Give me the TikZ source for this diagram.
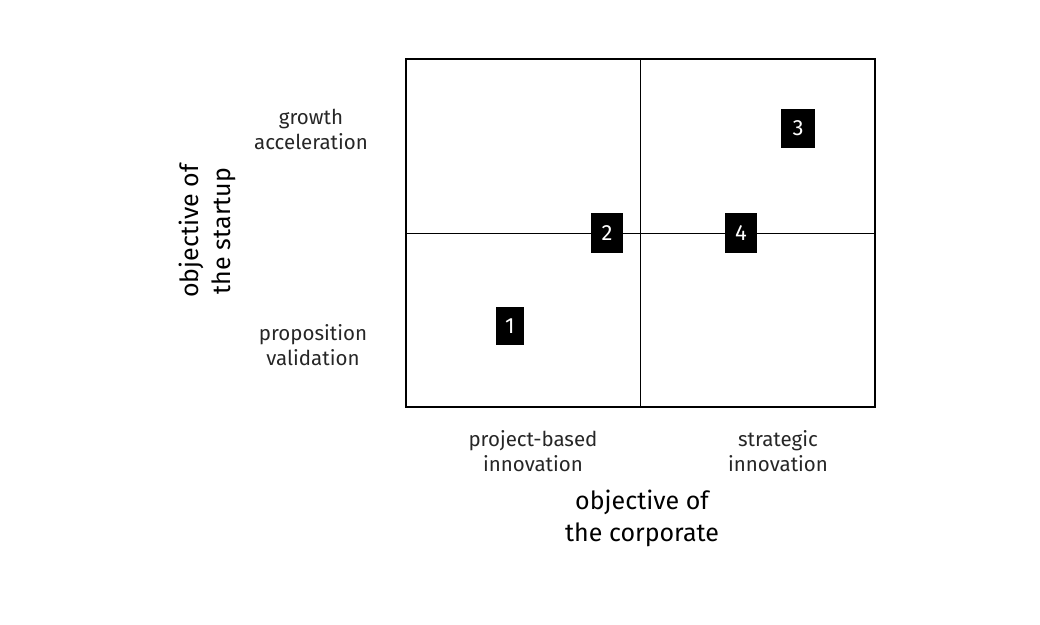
\documentclass[tikz,border=0pt]{standalone}
\usepackage{fontspec}
\setmainfont{Fira Sans}
\begin{document}
\begin{tikzpicture}[x=1pt,y=-1pt,
  lbl/.style={align=center,font=\fontsize{20.5}{25}\selectfont,text=black!85},
  axis/.style={align=center,font=\fontsize{25}{32}\selectfont,text=black},
  num/.style={fill=black,text=white,inner sep=0pt,font=\fontsize{22}{22}\selectfont}]
\useasboundingbox (0,0) rectangle (1040,624);
\node[draw=black,line width=2.2pt,minimum width=469pt,minimum height=348pt,inner sep=0pt] (frame) at (640.5,233) {};
\coordinate (vt) at (640,59);
\coordinate (vb) at (640,407);
\coordinate (hl) at (406,233);
\coordinate (hr) at (875,233);
\draw[line width=0.9pt] (vt) -- (vb);
\draw[line width=0.9pt] (hl) -- (hr);
\node[num,minimum width=28pt,minimum height=38pt] (n1) at (510,326) {1};
\node[num,minimum width=32pt,minimum height=40pt] (n2) at (607,233) {2};
\node[num,minimum width=34pt,minimum height=39pt] (n3) at (798,128) {3};
\node[num,minimum width=32pt,minimum height=40pt] (n4) at (741,233) {4};
\node[lbl] (ga) at (311,129) {growth\\acceleration};
\node[lbl] (pv) at (313,345) {proposition\\validation};
\node[lbl] (pb) at (533,451) {project-based\\innovation};
\node[lbl] (si) at (778,451) {strategic\\innovation};
\node[axis] (oc) at (642,518) {objective of\\the corporate};
\node[axis,rotate=90] (os) at (207,231) {objective of\\the startup};
\end{tikzpicture}
\end{document}
